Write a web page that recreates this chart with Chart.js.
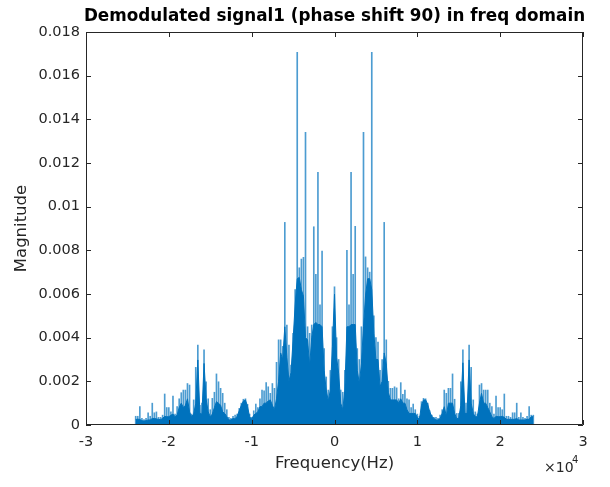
<!DOCTYPE html>
<html>
<head>
<meta charset="utf-8">
<script src="https://cdn.jsdelivr.net/npm/chart.js@4.4.1/dist/chart.umd.min.js"></script>
<style>
    html, body { margin: 0; padding: 0; background: #ffffff; }
    #wrap { width: 610px; height: 487px; position: relative; }
</style>
</head>
<body>
<div id="wrap"><canvas id="spectrum"></canvas></div>
<script>
// Spectrum, bins of 250 Hz from -24 kHz to +24 kHz
const FREQ_START = -24000;
const FREQ_STEP = 250;
const VALUE_UNIT = 1e-4; // values below are in units of 1e-4

// dense (dark) part of the spectrum
const bodyValues = [
    2.5, 2.7, 2.5, 2, 1.8, 2, 2.3, 2.3, 3, 3, 2.8, 2.6, 2.5, 3, 4, 3.8, 3.8, 4.5, 5, 3.8,
    4.5, 8, 10, 8, 9, 12, 6, 3.8, 5, 10, 29.8, 5.3, 5, 28.2, 12, 6, 3.8, 5, 8, 10.7,
    10, 9, 6, 5.3, 3.8, 2.3, 2.3, 3, 2.8, 4, 6.5, 9, 11, 11.5, 8.5, 3.8, 2.6, 4.5, 5.3, 6,
    8.4, 8.4, 10, 10, 11, 11.5, 9, 7, 12, 20, 33, 30, 45, 31, 20, 24, 39, 55, 67, 67.6,
    62, 59, 40, 39, 27, 40, 46, 47, 46, 46, 45, 25, 16, 11, 16, 36, 60,
    31, 23.7, 10, 7, 16, 45, 45, 46, 46, 46, 25, 19, 28, 45, 59.5, 67, 67, 62, 42, 30,
    30, 17.5, 20, 33, 28, 15, 11.5, 11.5, 11.5, 11.5, 10, 12, 10, 10, 7, 5.3, 5.3, 5.3, 5.3, 3.5,
    2.6, 9, 11.5, 11.5, 9.5, 6, 4, 3, 2.3, 2.3, 3, 5.3, 8.4, 4, 10, 10, 10, 5.3, 3, 3,
    9, 28.5, 5.3, 5.3, 29.8, 10, 5.3, 3.8, 3.8, 10, 14.5, 10, 10, 8, 6, 3.8, 3, 4, 3.8, 3.8,
    4, 3.5, 2.6, 2.6, 2.6, 2.6, 2.6, 3, 2.3, 2.3, 2.3, 2.3, 2.6, 2.6, 3.8, 3.8
];

// tallest line inside each bin
const peakValues = [
    4, 4, 8.4, 3, 2.5, 3, 5.6, 4, 10, 5.6, 6, 3.5, 3.5, 4.5, 14.2, 8, 8, 6, 13.3, 5,
    8.4, 12, 14.8, 16, 16, 19, 18.3, 5, 11.5, 26.4, 36.6, 9, 10, 34.4, 19.8, 12, 7, 12.2, 15, 23.4,
    19.8, 16.8, 14.5, 10, 7, 3.5, 3, 4, 4.5, 5, 7.6, 10, 11.8, 12, 9.5, 5, 3.5, 6.5, 9.6, 8,
    12, 16, 15.7, 19.4, 17.5, 14.5, 19, 16.8, 28.7, 39, 39, 36, 92.8, 45.8, 36.6, 27.5, 42, 62, 170.7, 72,
    76, 76.8, 134.1, 45, 42, 45.8, 90.8, 69, 115.7, 55, 79.7, 35, 22, 16, 25, 45, 63.3,
    40, 30, 16, 15, 25, 80, 55, 115.7, 69, 91, 35, 30, 45, 134.1, 77, 72, 70, 170.7, 50, 40,
    38, 25, 30, 92.8, 39, 20, 16.8, 16.8, 17.5, 17, 12, 19.4, 14, 16, 12, 11.5, 8, 9.6, 7, 5,
    4, 10.7, 12.2, 12, 10, 6.5, 4.5, 3.5, 3.5, 3, 4.5, 7, 16, 14.5, 16.8, 16.8, 23.4, 11.8, 5.3, 5.3,
    19.8, 34.4, 10, 10, 36.6, 26.4, 11.5, 6, 5, 18.3, 19, 16, 16, 16, 10, 8.4, 5, 13.3, 8, 8,
    7, 14.2, 4, 4, 3.5, 5.6, 5.6, 10, 3.5, 5.6, 3.5, 3, 4, 8.4, 4.5, 4.5
];

const xTickValues = [-30000, -20000, -10000, 0, 10000, 20000, 30000];
const yTickValues = [0, 0.002, 0.004, 0.006, 0.008, 0.01, 0.012, 0.014, 0.016, 0.018];

const TITLE = 'Demodulated signal1 (phase shift 90) in freq domain';
const X_LABEL = 'Frequency(Hz)';
const Y_LABEL = 'Magnitude';

const LINE_BLUE = '#0072BD';
const AXIS_GREY = '#262626';
const FONT = "'DejaVu Sans', sans-serif";

function toPoints(values) {
    return values.map((v, i) => ({ x: FREQ_START + i * FREQ_STEP, y: v * VALUE_UNIT }));
}

// MATLAB-like box with inward ticks, titles and the x10^4 exponent
const matlabAxes = {
    id: 'matlabAxes',
    afterDraw(chart) {
        const { ctx, chartArea: a, scales } = chart;
        ctx.save();
        ctx.strokeStyle = AXIS_GREY;
        ctx.lineWidth = 1;
        ctx.beginPath();
        ctx.rect(a.left + 0.5, a.top + 0.5, a.right - a.left - 1, a.bottom - a.top - 1);
        const len = 5;
        xTickValues.forEach(v => {
            const px = Math.round(scales.x.getPixelForValue(v)) + 0.5;
            ctx.moveTo(px, a.bottom); ctx.lineTo(px, a.bottom - len);
            ctx.moveTo(px, a.top); ctx.lineTo(px, a.top + len);
        });
        yTickValues.forEach(v => {
            const py = Math.round(scales.y.getPixelForValue(v)) + 0.5;
            ctx.moveTo(a.left, py); ctx.lineTo(a.left + len, py);
            ctx.moveTo(a.right, py); ctx.lineTo(a.right - len, py);
        });
        ctx.stroke();

        ctx.fillStyle = '#000000';
        ctx.textAlign = 'center';
        ctx.textBaseline = 'middle';
        ctx.font = `bold 16.8px ${FONT}`;
        ctx.fillText(TITLE, (a.left + a.right) / 2, 17);

        ctx.fillStyle = AXIS_GREY;
        ctx.font = `16.5px ${FONT}`;
        ctx.fillText(X_LABEL, (a.left + a.right) / 2, 464);

        ctx.translate(22, (a.top + a.bottom) / 2);
        ctx.rotate(-Math.PI / 2);
        ctx.fillText(Y_LABEL, 0, 0);
        ctx.restore();

        ctx.save();
        ctx.fillStyle = AXIS_GREY;
        ctx.textBaseline = 'alphabetic';
        ctx.font = `14px ${FONT}`;
        ctx.textAlign = 'left';
        ctx.fillText('\u00d710', 544, 472);
        ctx.font = `10px ${FONT}`;
        ctx.fillText('4', 572, 463);
        ctx.restore();
    }
};

const ctx = document.getElementById('spectrum').getContext('2d');
const chart = new Chart(ctx, {
    type: 'bar',
    data: {
        datasets: [
            {
                type: 'line',
                label: 'body',
                data: toPoints(bodyValues),
                borderColor: LINE_BLUE,
                backgroundColor: LINE_BLUE,
                borderWidth: 1,
                pointRadius: 0,
                tension: 0,
                fill: 'origin',
                order: 0
            },
            {
                type: 'bar',
                label: 'peaks',
                data: toPoints(peakValues),
                backgroundColor: 'rgba(0, 114, 189, 0.7)',
                barThickness: 1,
                grouped: false,
                order: 1
            }
        ]
    },
    options: {
        responsive: true,
        maintainAspectRatio: false,
        animation: false,
        layout: { padding: { top: 32, right: 27, left: 0, bottom: 0 } },
        plugins: {
            legend: { display: false },
            tooltip: { enabled: false },
            title: { display: false }
        },
        scales: {
            x: {
                type: 'linear',
                min: -30000,
                max: 30000,
                offset: false,
                afterBuildTicks: scale => { scale.ticks = xTickValues.map(v => ({ value: v })); },
                afterFit: scale => { scale.height = 62; },
                grid: { display: false },
                border: { display: false },
                ticks: {
                    color: AXIS_GREY,
                    font: { family: FONT, size: 14.5 },
                    padding: 1,
                    maxRotation: 0,
                    callback: v => String(v / 10000)
                }
            },
            y: {
                min: 0,
                max: 0.018,
                afterBuildTicks: scale => { scale.ticks = yTickValues.map(v => ({ value: v })); },
                afterFit: scale => { scale.width = 86; },
                grid: { display: false },
                border: { display: false },
                ticks: {
                    color: AXIS_GREY,
                    font: { family: FONT, size: 14.5 },
                    padding: -2,
                    callback: v => String(Number(v.toFixed(3)))
                }
            }
        }
    },
    plugins: [matlabAxes]
});
</script>
</body>
</html>
